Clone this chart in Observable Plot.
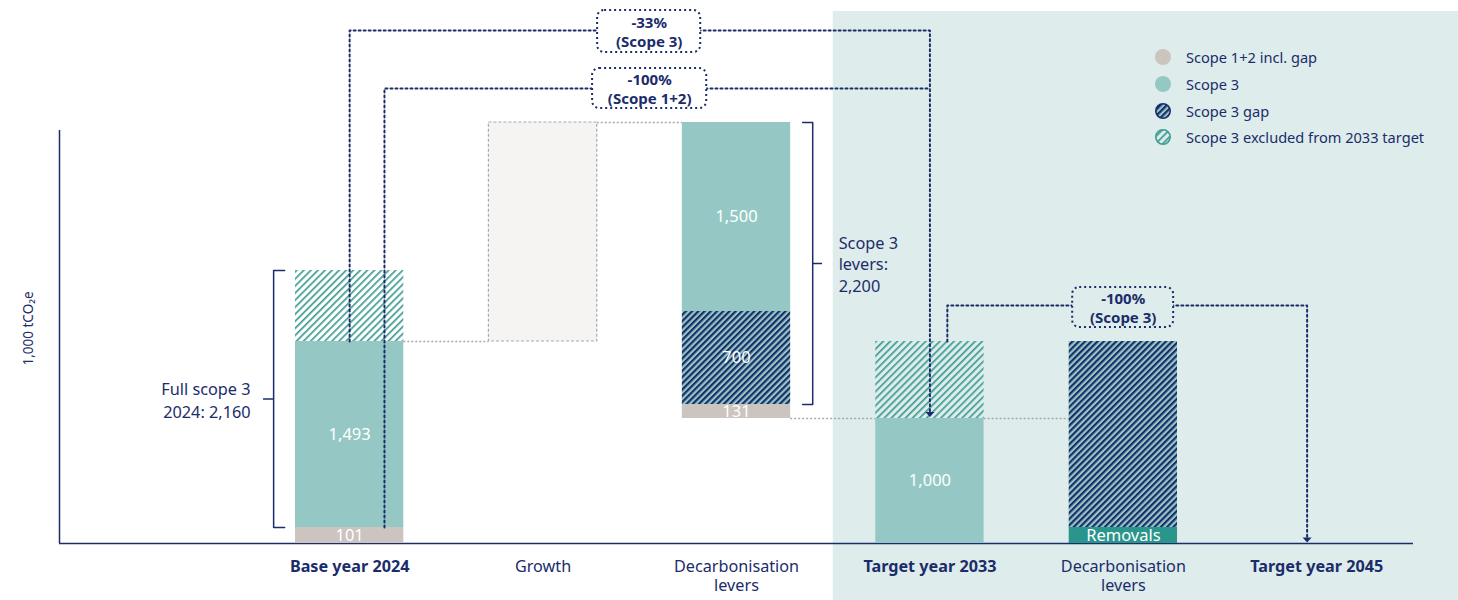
<!DOCTYPE html>
<html><head><meta charset="utf-8">
<script src="https://cdn.jsdelivr.net/npm/d3@7"></script>
<script src="https://cdn.jsdelivr.net/npm/@observablehq/plot@0.6"></script>
<style>
body{margin:0;background:#fff;font-family:"Noto Sans",sans-serif;}
#wrap{position:relative;width:1458px;height:600px;overflow:hidden;}
#legend{position:absolute;left:1155px;top:44px;font-size:14.6px;color:#1b2c6b;}
.row{display:flex;align-items:center;height:26.7px;white-space:nowrap;}
.row svg{margin-right:15px;display:block;}
</style></head><body>
<svg width="0" height="0" style="position:absolute">
 <defs>
  <pattern id="hatchGap" patternUnits="userSpaceOnUse" width="4.4" height="4.4" patternTransform="rotate(45)">
   <rect width="4.4" height="4.4" fill="#95c8c4"/>
   <rect width="2.2" height="4.4" fill="#1b2c6b"/>
  </pattern>
  <pattern id="hatchExcl" patternUnits="userSpaceOnUse" width="5" height="5" patternTransform="rotate(45)">
   <rect width="1.7" height="5" fill="#3f9d93"/>
  </pattern>
 </defs>
</svg>
<div id="wrap"><div id="legend"></div></div>
<script>
// ---- colours ----
const navy = "#1b2c6b", teal = "#95c8c4", grey = "#cbc4bf", removalsTeal = "#2a958b",
      hatchTeal = "#3f9d93", panelBg = "#deeceb", growthFill = "#f5f4f2", connectorGrey = "#a7a8b3";

// ---- categories (x positions are category indices) ----
const categories = ["Base year 2024", "Growth", "Decarbonisation\nlevers", "Target year 2033", "Decarbonisation\nlevers", "Target year 2045"];
const categoryBold = [true, false, false, true, false, true];

// ---- bar segments (1,000 tCO2e, extents as drawn) ----
const segCategory = [0, 0, 0, 1, 2, 2, 2, 3, 3, 4, 4];
const segType     = ["s12", "s3", "excl", "growth", "s12", "gap", "s3", "s3", "excl", "removals", "gap"];
const segStart    = [0, 128, 1616, 1616, 1000, 1112, 1856, 0, 1000, 0, 128];
const segEnd      = [128, 1616, 2184, 3368, 1112, 1856, 3368, 1000, 1616, 128, 1616];
const segLabel    = ["101", "1,493", "", "", "131", "700", "1,500", "1,000", "", "Removals", ""];

// ---- grey step connectors between bars ----
const stepFrom = [0, 1, 2, 3];
const stepY    = [1616, 3368, 1000, 1000];

// ---- dotted target connectors ----
const connId = ["a", "a", "a", "a", "b", "b", "b", "c", "c", "c", "c"];
const connX  = [0, 0, 3.0, 3.0, 0.18, 0.18, 3.0, 3.09, 3.09, 4.95, 4.95];
const connY  = [1616, 4104, 4104, 1040, 128, 3640, 3640, 1616, 1904, 1904, 36];
const arrowX = [3.0, 4.95];
const arrowY = [1032, 28];

// ---- reduction boxes ----
const boxText = ["-33%\n(Scope 3)", "-100%\n(Scope 1+2)", "-100%\n(Scope 3)"];
const boxX1 = [1.282, 1.256, 3.738];
const boxX2 = [1.815, 1.846, 4.26];
const boxY1 = [3928, 3480, 1728];
const boxY2 = [4264, 3800, 2048];
const boxOnPanel = [false, false, true];

// ---- brackets ----
const bracketId = ["base", "base", "base", "base", "lev", "lev", "lev", "lev"];
const bracketX  = [-0.336, -0.393, -0.393, -0.336, 2.342, 2.394, 2.394, 2.342];
const bracketY  = [2184, 2184, 128, 128, 3368, 3368, 1112, 1112];
const bracketTickX1 = [-0.445, 2.394];
const bracketTickX2 = [-0.393, 2.445];
const bracketTickY  = [1156, 2240];
const bracketText   = ["Full scope 3\n2024: 2,160", "Scope 3\nlevers:\n2,200"];
const bracketTextX  = [-0.512, 2.528];
const bracketAnchor = ["end", "start"];

// ---- shaded target area ----
const panelX = [2.5, 5.75];
const panelY = [-460, 4256];

const yLabel = "1,000 tCO₂e";

// ---- legend ----
const legendLabels  = ["Scope 1+2 incl. gap", "Scope 3", "Scope 3 gap", "Scope 3 excluded from 2033 target"];
const legendFills   = [grey, teal, "url(#hatchGap)", "url(#hatchExcl)"];
const legendStrokes = ["none", "none", navy, hatchTeal];

// ---- tables ----
const barHalf = 0.28;
const segments = segCategory.map((c, i) => ({c, type: segType[i], y1: segStart[i], y2: segEnd[i], label: segLabel[i]}));
const fills = {s12: grey, s3: teal, excl: "url(#hatchExcl)", gap: "url(#hatchGap)", removals: removalsTeal};
const steps = stepFrom.map((f, i) => ({from: f, y: stepY[i]}));
const conns = connId.map((id, i) => ({id, x: connX[i], y: connY[i]}));
const arrows = arrowX.map((x, i) => ({x, y: arrowY[i]}));
const boxes = boxText.map((t, i) => ({text: t, x1: boxX1[i], x2: boxX2[i], y1: boxY1[i], y2: boxY2[i], panel: boxOnPanel[i]}));
const brackets = bracketId.map((id, i) => ({id, x: bracketX[i], y: bracketY[i]}));
const bTicks = bracketTickY.map((y, i) => ({y, x1: bracketTickX1[i], x2: bracketTickX2[i]}));
const bTexts = bracketText.map((t, i) => ({text: t, x: bracketTextX[i], y: bracketTickY[i], anchor: bracketAnchor[i]}));
const cats = categories.map((label, i) => ({i, label, bold: categoryBold[i]}));

const downTri = {draw(ctx, size) { const w = 4.5, h = 2.6; ctx.moveTo(-w, -h); ctx.lineTo(w, -h); ctx.lineTo(0, h); ctx.closePath(); }};

const rectOf = type => Plot.rect(segments.filter(d => d.type === type), {
  x1: d => d.c - barHalf, x2: d => d.c + barHalf, y1: "y1", y2: "y2", fill: fills[type]
});

const chart = Plot.plot({
  width: 1458, height: 600,
  marginLeft: 59, marginRight: 45, marginTop: 130, marginBottom: 57,
  x: {domain: [-1.5, 5.5], axis: null},
  y: {domain: [0, 3304], axis: null},
  style: {fontFamily: "'Noto Sans', sans-serif", fontSize: "15px", color: navy, background: "transparent", overflow: "visible"},
  marks: [
    Plot.rect([0], {x1: panelX[0], x2: panelX[1], y1: panelY[0], y2: panelY[1], fill: panelBg}),
    Plot.ruleX([-1.5], {y1: 0, y2: 3304, stroke: navy, strokeWidth: 1.5}),
    Plot.ruleY([0], {stroke: navy, strokeWidth: 1.5}),
    Plot.ruleY(steps, {y: "y", x1: d => d.from + barHalf, x2: d => d.from + 1 - barHalf, stroke: connectorGrey, strokeWidth: 1.3, strokeDasharray: "2 2"}),
    Plot.rect(segments.filter(d => d.type === "growth"), {
      x1: d => d.c - barHalf, x2: d => d.c + barHalf, y1: "y1", y2: "y2",
      fill: growthFill, stroke: connectorGrey, strokeWidth: 1.2, strokeDasharray: "3 2"
    }),
    rectOf("s12"), rectOf("s3"), rectOf("excl"), rectOf("gap"), rectOf("removals"),
    Plot.text(segments.filter(d => d.label), {x: "c", y: d => (d.y1 + d.y2) / 2, text: "label", fill: "white", fontSize: 16.5}),
    Plot.line(conns, {x: "x", y: "y", z: "id", stroke: navy, strokeWidth: 2, strokeDasharray: "2 3"}),
    Plot.dot(arrows, {x: "x", y: "y", symbol: downTri, r: 4, fill: navy, stroke: "none"}),
    Plot.rect(boxes.filter(d => !d.panel), {x1: "x1", x2: "x2", y1: "y1", y2: "y2", fill: "white", stroke: navy, strokeWidth: 2, strokeDasharray: "2 3", rx: 7}),
    Plot.rect(boxes.filter(d => d.panel), {x1: "x1", x2: "x2", y1: "y1", y2: "y2", fill: panelBg, stroke: navy, strokeWidth: 2, strokeDasharray: "2 3", rx: 7}),
    Plot.text(boxes, {x: d => (d.x1 + d.x2) / 2, y: d => (d.y1 + d.y2) / 2, text: "text", fill: navy, fontWeight: "bold", fontSize: 15, lineHeight: 1.28}),
    Plot.line(brackets, {x: "x", y: "y", z: "id", stroke: navy, strokeWidth: 1.5}),
    Plot.ruleY(bTicks, {y: "y", x1: "x1", x2: "x2", stroke: navy, strokeWidth: 1.5}),
    Plot.text(bTexts.filter(d => d.anchor === "end"), {x: "x", y: "y", text: "text", textAnchor: "end", fill: navy, fontSize: 16.3, lineHeight: 1.42}),
    Plot.text(bTexts.filter(d => d.anchor === "start"), {x: "x", y: "y", text: "text", textAnchor: "start", fill: navy, fontSize: 16.3, lineHeight: 1.32}),
    Plot.text(cats.filter(d => d.bold), {x: "i", y: 0, text: "label", dy: 15, lineAnchor: "top", fill: navy, fontWeight: "bold", fontSize: 16.2, lineHeight: 1.18}),
    Plot.text(cats.filter(d => !d.bold), {x: "i", y: 0, text: "label", dy: 15, lineAnchor: "top", fill: navy, fontSize: 16.2, lineHeight: 1.18}),
    Plot.text([yLabel], {x: -1.5, y: 1720, rotate: -90, dx: -31, fill: navy, fontSize: 13.5})
  ]
});

const wrap = document.getElementById("wrap");
wrap.insertBefore(chart, wrap.firstChild);

const legend = document.getElementById("legend");
legendLabels.forEach((lab, i) => {
  const row = document.createElement("div");
  row.className = "row";
  const r = legendStrokes[i] === "none" ? 8 : 7.2;
  row.innerHTML = `<svg width="16" height="16" viewBox="0 0 16 16"><circle cx="8" cy="8" r="${r}" fill="${legendFills[i]}" stroke="${legendStrokes[i]}" stroke-width="1.6"/></svg><span>${lab}</span>`;
  legend.appendChild(row);
});
</script>
</body></html>
